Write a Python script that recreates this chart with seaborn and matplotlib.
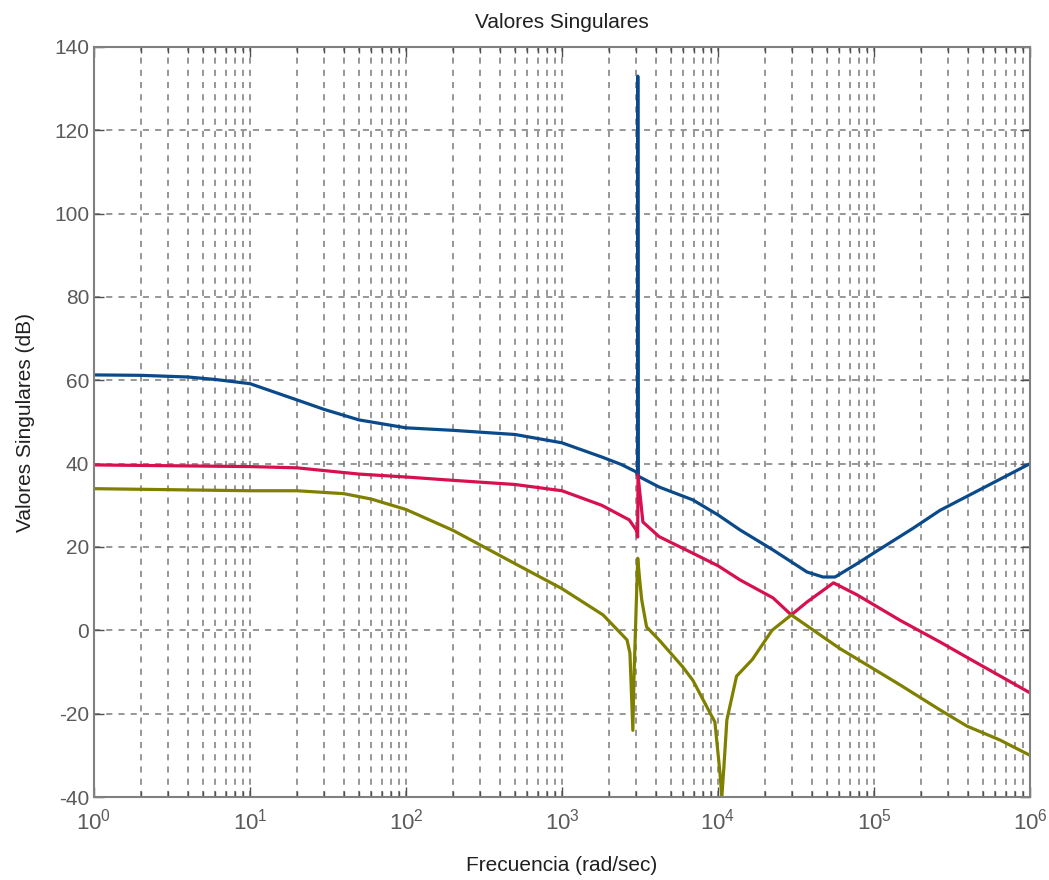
import numpy as np
import pandas as pd
import matplotlib
matplotlib.use("Agg")
import matplotlib.pyplot as plt
import seaborn as sns
from matplotlib.ticker import LogLocator, NullFormatter, FixedLocator, LogFormatterSciNotation

# --- data ---
blue_f = [1, 2, 4, 6, 10, 20, 30, 50, 100, 200, 500, 1000, 1800, 2400, 3000,
          3050, 3060, 3080, 4190, 6900, 10000, 13840, 22500, 37200, 47100, 56300,
          77900, 100000, 178000, 265000, 1000000]
blue_v = [61.3, 61.2, 60.8, 60.2, 59.2, 55.3, 53.0, 50.5, 48.6, 48.0, 47.0, 45.0,
          41.6, 39.8, 38.0, 37.3, 133.0, 37.0, 34.4, 31.3, 27.7, 24.1, 19.3, 14.0,
          12.8, 12.8, 16.0, 18.6, 24.5, 28.8, 40.0]

red_f = [1, 10, 20, 50, 100, 200, 500, 1000, 1800, 2700, 3000, 3055, 3070, 3300,
         4190, 6900, 10000, 13840, 22500, 29500, 37200, 55000, 78000, 147000,
         265000, 395000, 1000000]
red_v = [39.7, 39.3, 39.0, 37.5, 36.8, 36.0, 35.0, 33.5, 30.0, 26.5, 24.0, 22.4,
         37.3, 26.0, 22.5, 18.5, 15.5, 12.1, 7.8, 3.7, 6.8, 11.4, 8.5, 2.4,
         -2.8, -6.5, -15.0]

olive_f = [1, 10, 20, 40, 60, 100, 200, 500, 1000, 1833, 2612, 2726, 2845, 2900,
           3057, 3150, 3244, 3485, 4190, 5950, 6900, 8490, 9550, 10280, 10580,
           10900, 11400, 13150, 16600, 22200, 29500, 60000, 147000, 265000,
           395000, 640000, 1000000]
olive_v = [34.0, 33.5, 33.5, 32.8, 31.5, 29.0, 24.0, 16.0, 10.0, 3.7, -2.3, -5.5,
           -24.0, -10.0, 17.3, 12.0, 7.3, 0.8, -2.3, -8.8, -12.0, -18.4, -22.0,
           -34.0, -40.0, -33.0, -21.5, -11.0, -7.0, 0.0, 3.7, -4.3, -13.1, -19.1,
           -23.0, -26.3, -30.0]

x_ticks = [1, 10, 100, 1000, 10000, 100000, 1000000]
y_ticks = [-40, -20, 0, 20, 40, 60, 80, 100, 120, 140]

series_names = ["sv1", "sv2", "sv3"]
colors = ["#0b4a8a", "#d7104f", "#808000"]

sns.set_style("white")
plt.rcParams["font.family"] = ["Liberation Sans Narrow", "Liberation Sans", "DejaVu Sans"]
plt.rcParams["axes.unicode_minus"] = False

fig = plt.figure(figsize=(10.49, 8.8), dpi=100)
ax = fig.add_axes([94/1049, 1-797/880, (1030-94)/1049, (797-47)/880])

for name, f, v, c in zip(series_names, [blue_f, red_f, olive_f],
                         [blue_v, red_v, olive_v], colors):
    df = pd.DataFrame({"f": f, "v": v})
    sns.lineplot(data=df, x="f", y="v", ax=ax, color=c, lw=2.3, sort=False,
                 estimator=None)

ax.set_xscale("log")
ax.set_xlim(1, 1e6)
ax.set_ylim(-40, 140)
ax.set_yticks(y_ticks)
ax.xaxis.set_major_locator(FixedLocator(x_ticks))
ax.xaxis.set_major_formatter(LogFormatterSciNotation())
minor = [m * d for d in x_ticks[:-1] for m in range(2, 10)]
ax.xaxis.set_minor_locator(FixedLocator(minor))
ax.xaxis.set_minor_formatter(NullFormatter())

grid_kw = dict(color="#7a7a7a", linestyle=(0, (4, 4)), linewidth=1.1)
ax.grid(True, which="major", axis="both", **grid_kw)
ax.grid(True, which="minor", axis="x", **grid_kw)

for s in ax.spines.values():
    s.set_color("#808080")
    s.set_linewidth(1.5)
    s.set_visible(True)

tick_col = "#5a5a5a"
ax.tick_params(which="both", direction="in", top=True, right=True, bottom=True,
               left=True, color="#505050", labelcolor=tick_col, labelsize=15)
ax.tick_params(which="major", length=7, width=1)
ax.tick_params(which="minor", length=4, width=1)
ax.tick_params(axis="x", pad=8, labelsize=16)

ax.set_title("Valores Singulares", fontsize=15, color="#202020", pad=14)
ax.set_xlabel("Frecuencia (rad/sec)", fontsize=15, color="#202020", labelpad=16)
ax.set_ylabel("Valores Singulares (dB)", fontsize=15, color="#202020", labelpad=14)

fig.savefig("out.png", dpi=100, facecolor="white")
